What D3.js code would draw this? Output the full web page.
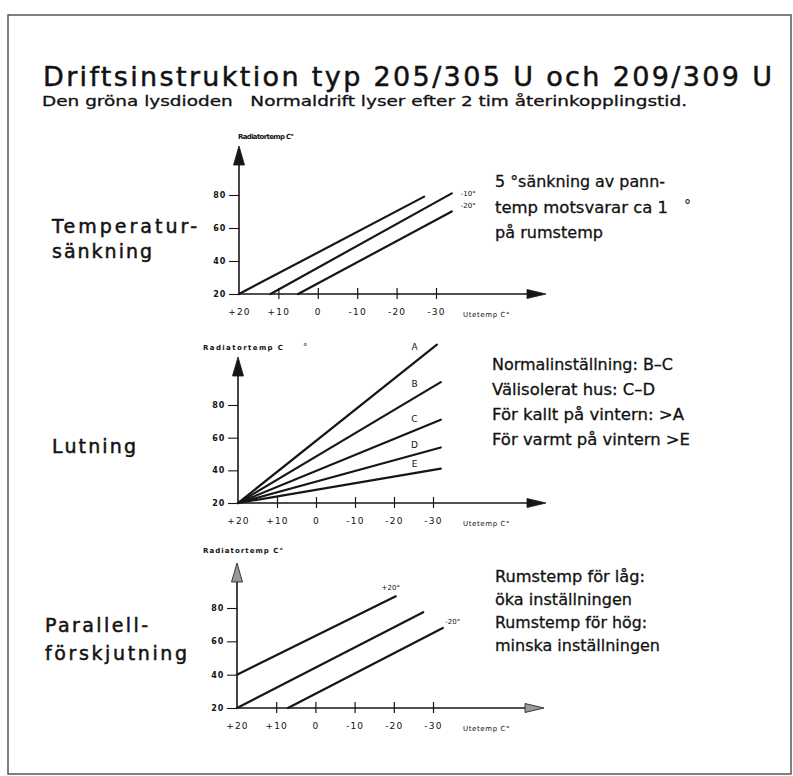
<!DOCTYPE html>
<html>
<head>
<meta charset="utf-8">
<script src="https://cdn.jsdelivr.net/npm/d3@7"></script>
<style>
body { margin: 0; background: #fff; }
svg { display: block; }
text { font-family: "DejaVu Sans", "Noto Sans", sans-serif; fill: #111; }
</style>
</head>
<body>
<div id="chart"></div>
<script>
// values
let outdoorTicks = [20, 10, 0, -10, -20, -30];
let radiatorTicks = [20, 40, 60, 80];

// Temperatursänkning: three parallel curves
let sankningNames = ["", "-10°", "-20°"];
let sankningStart = [[20, 20], [12, 20], [5, 20]];
let sankningEnd = [[-27, 79], [-34, 81], [-34, 70]];

// Lutning: five slopes, all from +20 / 20
let lutningNames = ["A", "B", "C", "D", "E"];
let lutningEnd = [[-31, 117], [-32, 94], [-32, 71], [-32, 54], [-32, 41]];

// Parallellförskjutning
let parallelNames = ["+20°", "", "-20°"];
let parallelStart = [[20, 40], [20, 20], [7, 20]];
let parallelEnd = [[-20.5, 87], [-27.5, 77.5], [-32.5, 68]];

let titleText = "Driftsinstruktion typ 205/305 U och 209/309 U";
let subtitleText = "Den gröna lysdioden   Normaldrift lyser efter 2 tim återinkopplingstid.";

let note1 = ["5 °sänkning av pann-", "temp motsvarar ca 1", "på rumstemp"];
let note2 = ["Normalinställning: B–C", "Välisolerat hus: C–D", "För kallt på vintern: >A", "För varmt på vintern >E"];
let note3 = ["Rumstemp för låg:", "öka inställningen", "Rumstemp för hög:", "minska inställningen"];

let width = 793, height = 776;
let ink = "#161616";

let svg = d3.select("#chart").append("svg")
    .attr("width", width)
    .attr("height", height);

// frame
svg.append("rect")
    .attr("x", 8).attr("y", 15)
    .attr("width", 783).attr("height", 759)
    .attr("fill", "none")
    .attr("stroke", "#555")
    .attr("stroke-width", 1.5);

svg.append("text")
    .attr("x", 43).attr("y", 86)
    .attr("font-size", 27)
    .attr("stroke", ink).attr("stroke-width", 0.5)
    .attr("textLength", 729)
    .attr("lengthAdjust", "spacing")
    .text(titleText);

svg.append("text")
    .attr("x", 42).attr("y", 106)
    .attr("font-size", 14)
    .attr("stroke", ink).attr("stroke-width", 0.3)
    .style("white-space", "pre")
    .attr("textLength", 645)
    .attr("lengthAdjust", "spacingAndGlyphs")
    .text(subtitleText);

// section labels on the left
function sectionLabel(lines, x, y0, step, widths) {
    lines.forEach((t, i) => {
        svg.append("text")
            .attr("x", x).attr("y", y0 + i * step)
            .attr("font-size", 19)
            .attr("stroke", ink).attr("stroke-width", 0.5)
            .attr("textLength", widths[i])
            .attr("lengthAdjust", "spacing")
            .text(t);
    });
}
sectionLabel(["Temperatur-", "sänkning"], 52, 233, 25, [145, 100]);
sectionLabel(["Lutning"], 52, 453, 0, [84]);
sectionLabel(["Parallell-", "förskjutning"], 45, 632, 28, [103, 142]);

// notes on the right
function note(lines, x, y0, step, widths) {
    lines.forEach((t, i) => {
        svg.append("text")
            .attr("x", x).attr("y", y0 + i * step)
            .attr("font-size", 16)
            .attr("stroke", ink).attr("stroke-width", 0.3)
            .attr("textLength", widths[i])
            .attr("lengthAdjust", "spacingAndGlyphs")
            .text(t);
    });
}
note(note1, 495, 187, 25.5, [170, 173, 108]);
svg.append("text").attr("x", 684).attr("y", 210).attr("font-size", 14).text("°");
note(note2, 492, 370, 25, [181, 163, 192, 198]);
note(note3, 495, 582, 23, [150, 137, 152, 165]);

function drawPanel(p) {
    let x = d3.scaleLinear().domain([20, -30]).range([p.left, p.right]);
    let y = d3.scaleLinear().domain([20, 80]).range([p.bottom, p.top]);
    let g = svg.append("g");
    let ox = x(20), oy = y(20);

    // axis lines with arrow heads
    g.append("line")
        .attr("x1", ox).attr("x2", ox)
        .attr("y1", oy).attr("y2", p.yTip + 10)
        .attr("stroke", ink).attr("stroke-width", 1.6);
    g.append("line")
        .attr("x1", ox).attr("x2", p.xTip - 10)
        .attr("y1", oy).attr("y2", oy)
        .attr("stroke", ink).attr("stroke-width", 1.6);
    g.append("path")
        .attr("d", `M${ox},${p.yTip} L${ox + 5.5},${p.yTip + 19} L${ox - 5.5},${p.yTip + 19} Z`)
        .attr("fill", p.arrowFill).attr("stroke", ink).attr("stroke-width", 0.8);
    g.append("path")
        .attr("d", `M${p.xTip},${oy} L${p.xTip - 19},${oy - 4.5} L${p.xTip - 19},${oy + 4.5} Z`)
        .attr("fill", p.arrowFill).attr("stroke", ink).attr("stroke-width", 0.8);

    let yAx = g.append("g")
        .attr("transform", `translate(${ox},0)`)
        .call(d3.axisLeft(y).tickValues(radiatorTicks).tickSize(10).tickPadding(3));
    yAx.select(".domain").remove();
    yAx.selectAll(".tick line").attr("stroke", ink).attr("stroke-width", 1.1);
    yAx.selectAll(".tick text")
        .attr("font-size", 8).attr("font-weight", "bold")
        .attr("letter-spacing", 0.8);

    let xAx = g.append("g")
        .attr("transform", `translate(0,${oy})`)
        .call(d3.axisBottom(x).tickValues(outdoorTicks).tickSize(0).tickPadding(15)
            .tickFormat(d => d > 0 ? "+" + d : String(d)));
    xAx.select(".domain").remove();
    xAx.selectAll(".tick line")
        .attr("y1", -6).attr("y2", 5)
        .attr("stroke", ink).attr("stroke-width", 1.2);
    xAx.selectAll(".tick").filter(d => d === 20).select("line").remove();
    xAx.selectAll(".tick text")
        .attr("font-size", 9)
        .attr("letter-spacing", 1.2);

    g.append("text")
        .attr("x", p.utX).attr("y", oy + 23)
        .attr("font-size", 7).attr("letter-spacing", 0.6)
        .text("Utetemp C°");

    g.append("text")
        .attr("x", p.radX).attr("y", p.radY)
        .attr("font-size", 7).attr("font-weight", "bold")
        .attr("textLength", p.radW).attr("lengthAdjust", "spacing")
        .text(p.radText);

    g.selectAll(".curve")
        .data(p.lines)
        .join("line")
        .attr("class", "curve")
        .attr("x1", d => x(d.start[0])).attr("y1", d => y(d.start[1]))
        .attr("x2", d => x(d.end[0])).attr("y2", d => y(d.end[1]))
        .attr("stroke", ink)
        .attr("stroke-width", 2.2)
        .attr("stroke-linecap", "round");

    g.selectAll(".lbl")
        .data(p.lines.filter(d => d.name))
        .join("text")
        .attr("class", "lbl")
        .attr("font-size", p.labelSize)
        .attr("text-anchor", p.labelAnchor)
        .attr("dy", "0.35em")
        .each(function (d) {
            let pos = p.labelPos(d, x, y);
            d3.select(this).attr("x", pos[0]).attr("y", pos[1]);
        })
        .text(d => d.name);
    return g;
}

let sankning = sankningNames.map((n, i) => ({ name: n, start: sankningStart[i], end: sankningEnd[i] }));
let lutning = lutningNames.map((n, i) => ({ name: n, start: [20, 20], end: lutningEnd[i] }));
let parallel = parallelNames.map((n, i) => ({ name: n, start: parallelStart[i], end: parallelEnd[i] }));

drawPanel({
    left: 239, right: 436, bottom: 294, top: 195,
    yTip: 146, xTip: 546, arrowFill: ink,
    utX: 463, radX: 238, radY: 139, radW: 56, radText: "Radiatortemp C°",
    lines: sankning, labelSize: 7, labelAnchor: "start",
    labelPos: (d, x, y) => [x(d.end[0]) + 9, y(d.end[1]) + (d.name === "-20°" ? -6 : 0)]
});

let g2 = drawPanel({
    left: 238, right: 433, bottom: 503, top: 405,
    yTip: 357, xTip: 546, arrowFill: ink,
    utX: 463, radX: 203, radY: 350, radW: 80, radText: "Radiatortemp C",
    lines: lutning, labelSize: 9, labelAnchor: "middle",
    labelPos: (d, x, y) => {
        let t = (-25 - d.start[0]) / (d.end[0] - d.start[0]);
        let v = d.start[1] + t * (d.end[1] - d.start[1]);
        let slope = (y(d.start[1]) - y(d.end[1])) / (x(d.end[0]) - x(d.start[0]));
        return [x(-25) + 1, y(v) - (7 + 12 * slope)];
    }
});
g2.append("text").attr("x", 303).attr("y", 350).attr("font-size", 9).text("°");

drawPanel({
    left: 237, right: 433, bottom: 708, top: 608,
    yTip: 563, xTip: 544, arrowFill: "#999",
    utX: 463, radX: 203, radY: 553, radW: 80, radText: "Radiatortemp C°",
    lines: parallel, labelSize: 7, labelAnchor: "middle",
    labelPos: (d, x, y) => d.name === "+20°"
        ? [x(d.end[0]) - 5, y(d.end[1]) - 9]
        : [x(d.end[0]) + 10, y(d.end[1]) - 6]
});
</script>
</body>
</html>
